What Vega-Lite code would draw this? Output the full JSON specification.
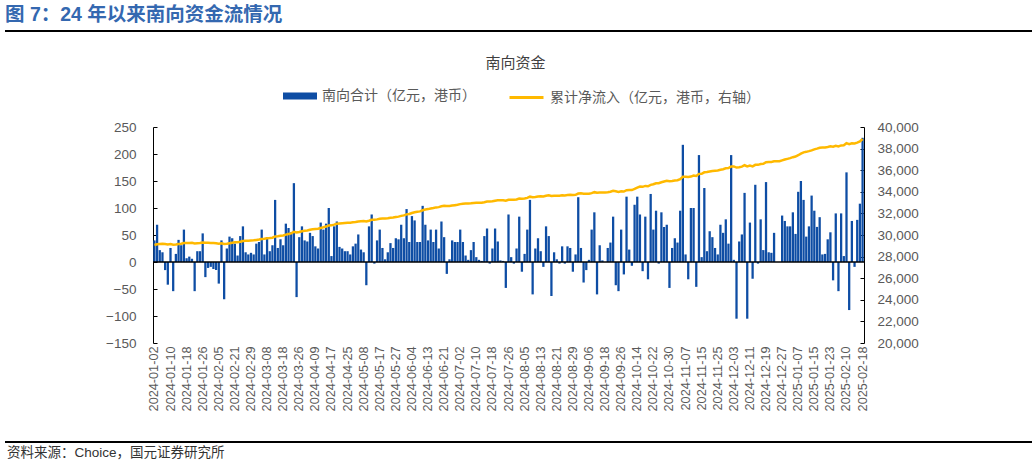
{
"$schema": "https://vega.github.io/schema/vega-lite/v6.json",
"background": "#ffffff",
"padding": {"left": 5, "top": 4, "right": 0, "bottom": 3},
"spacing": 24,
"config": {"view": {"stroke": null}, "axis": {"labelOverlap": false}},
"datasets": {"flows": [
{"d":"2024-01-02","v":40,"c":29080},{"d":"2024-01-03","v":69,"c":29149},{"d":"2024-01-04","v":22,"c":29171},{"d":"2024-01-05","v":18,"c":29189},{"d":"2024-01-08","v":-15,"c":29174},{"d":"2024-01-09","v":-42,"c":29132},{"d":"2024-01-10","v":26,"c":29158},{"d":"2024-01-11","v":-54,"c":29104},{"d":"2024-01-12","v":15,"c":29119},{"d":"2024-01-15","v":41,"c":29160},
{"d":"2024-01-16","v":31,"c":29191},{"d":"2024-01-17","v":60,"c":29251},{"d":"2024-01-18","v":7,"c":29258},{"d":"2024-01-19","v":10,"c":29268},{"d":"2024-01-22","v":6,"c":29274},{"d":"2024-01-23","v":-54,"c":29220},{"d":"2024-01-24","v":20,"c":29240},{"d":"2024-01-25","v":20,"c":29260},{"d":"2024-01-26","v":53,"c":29313},{"d":"2024-01-29","v":-28,"c":29285},
{"d":"2024-01-30","v":-11,"c":29274},{"d":"2024-01-31","v":-9,"c":29265},{"d":"2024-02-01","v":-13,"c":29252},{"d":"2024-02-02","v":-15,"c":29237},{"d":"2024-02-05","v":-40,"c":29197},{"d":"2024-02-06","v":40,"c":29237},{"d":"2024-02-07","v":-69,"c":29168},{"d":"2024-02-08","v":25,"c":29193},{"d":"2024-02-19","v":47,"c":29240},{"d":"2024-02-20","v":44,"c":29284},
{"d":"2024-02-21","v":34,"c":29318},{"d":"2024-02-22","v":12,"c":29330},{"d":"2024-02-23","v":48,"c":29378},{"d":"2024-02-26","v":66,"c":29444},{"d":"2024-02-27","v":18,"c":29462},{"d":"2024-02-28","v":14,"c":29476},{"d":"2024-02-29","v":17,"c":29493},{"d":"2024-03-01","v":14,"c":29507},{"d":"2024-03-04","v":34,"c":29541},{"d":"2024-03-05","v":37,"c":29578},
{"d":"2024-03-06","v":60,"c":29638},{"d":"2024-03-07","v":14,"c":29652},{"d":"2024-03-08","v":46,"c":29698},{"d":"2024-03-11","v":20,"c":29718},{"d":"2024-03-12","v":31,"c":29749},{"d":"2024-03-13","v":115,"c":29864},{"d":"2024-03-14","v":26,"c":29890},{"d":"2024-03-15","v":42,"c":29932},{"d":"2024-03-18","v":31,"c":29963},{"d":"2024-03-19","v":71,"c":30034},
{"d":"2024-03-20","v":63,"c":30097},{"d":"2024-03-21","v":55,"c":30152},{"d":"2024-03-22","v":146,"c":30298},{"d":"2024-03-25","v":-65,"c":30233},{"d":"2024-03-26","v":46,"c":30279},{"d":"2024-03-27","v":66,"c":30345},{"d":"2024-03-28","v":40,"c":30385},{"d":"2024-04-02","v":38,"c":30423},{"d":"2024-04-03","v":54,"c":30477},{"d":"2024-04-08","v":48,"c":30525},
{"d":"2024-04-09","v":29,"c":30554},{"d":"2024-04-10","v":25,"c":30579},{"d":"2024-04-11","v":73,"c":30652},{"d":"2024-04-12","v":60,"c":30712},{"d":"2024-04-15","v":71,"c":30783},{"d":"2024-04-16","v":100,"c":30883},{"d":"2024-04-17","v":11,"c":30894},{"d":"2024-04-18","v":66,"c":30960},{"d":"2024-04-19","v":75,"c":31035},{"d":"2024-04-22","v":28,"c":31063},
{"d":"2024-04-23","v":25,"c":31088},{"d":"2024-04-24","v":20,"c":31108},{"d":"2024-04-25","v":20,"c":31128},{"d":"2024-04-26","v":14,"c":31142},{"d":"2024-04-29","v":29,"c":31171},{"d":"2024-04-30","v":34,"c":31205},{"d":"2024-05-06","v":51,"c":31256},{"d":"2024-05-07","v":23,"c":31279},{"d":"2024-05-08","v":18,"c":31297},{"d":"2024-05-09","v":-43,"c":31254},
{"d":"2024-05-10","v":66,"c":31320},{"d":"2024-05-13","v":88,"c":31408},{"d":"2024-05-14","v":-3,"c":31405},{"d":"2024-05-16","v":40,"c":31445},{"d":"2024-05-17","v":60,"c":31505},{"d":"2024-05-20","v":26,"c":31531},{"d":"2024-05-21","v":5,"c":31536},{"d":"2024-05-22","v":18,"c":31554},{"d":"2024-05-23","v":35,"c":31589},{"d":"2024-05-24","v":26,"c":31615},
{"d":"2024-05-27","v":44,"c":31659},{"d":"2024-05-28","v":42,"c":31701},{"d":"2024-05-29","v":69,"c":31770},{"d":"2024-05-30","v":44,"c":31814},{"d":"2024-05-31","v":98,"c":31912},{"d":"2024-06-03","v":37,"c":31949},{"d":"2024-06-04","v":85,"c":32034},{"d":"2024-06-05","v":77,"c":32111},{"d":"2024-06-06","v":37,"c":32148},{"d":"2024-06-07","v":37,"c":32185},
{"d":"2024-06-11","v":104,"c":32289},{"d":"2024-06-12","v":69,"c":32358},{"d":"2024-06-13","v":40,"c":32398},{"d":"2024-06-14","v":60,"c":32458},{"d":"2024-06-17","v":37,"c":32495},{"d":"2024-06-18","v":60,"c":32555},{"d":"2024-06-19","v":25,"c":32580},{"d":"2024-06-20","v":75,"c":32655},{"d":"2024-06-21","v":46,"c":32701},{"d":"2024-06-24","v":-22,"c":32679},
{"d":"2024-06-25","v":5,"c":32684},{"d":"2024-06-26","v":40,"c":32724},{"d":"2024-06-27","v":37,"c":32761},{"d":"2024-06-28","v":37,"c":32798},{"d":"2024-07-02","v":60,"c":32858},{"d":"2024-07-03","v":37,"c":32895},{"d":"2024-07-04","v":12,"c":32907},{"d":"2024-07-05","v":4,"c":32911},{"d":"2024-07-08","v":22,"c":32933},{"d":"2024-07-09","v":37,"c":32970},
{"d":"2024-07-10","v":9,"c":32979},{"d":"2024-07-11","v":4,"c":32983},{"d":"2024-07-12","v":2,"c":32985},{"d":"2024-07-15","v":48,"c":33033},{"d":"2024-07-16","v":62,"c":33095},{"d":"2024-07-17","v":-3,"c":33092},{"d":"2024-07-18","v":25,"c":33117},{"d":"2024-07-19","v":62,"c":33179},{"d":"2024-07-22","v":38,"c":33217},{"d":"2024-07-23","v":3,"c":33220},
{"d":"2024-07-24","v":2,"c":33222},{"d":"2024-07-25","v":-48,"c":33174},{"d":"2024-07-26","v":88,"c":33262},{"d":"2024-07-29","v":9,"c":33271},{"d":"2024-07-30","v":-3,"c":33268},{"d":"2024-07-31","v":25,"c":33293},{"d":"2024-08-01","v":84,"c":33377},{"d":"2024-08-02","v":-18,"c":33359},{"d":"2024-08-05","v":15,"c":33374},{"d":"2024-08-06","v":60,"c":33434},
{"d":"2024-08-07","v":115,"c":33549},{"d":"2024-08-08","v":-60,"c":33489},{"d":"2024-08-09","v":25,"c":33514},{"d":"2024-08-12","v":44,"c":33558},{"d":"2024-08-13","v":20,"c":33578},{"d":"2024-08-14","v":-9,"c":33569},{"d":"2024-08-15","v":66,"c":33635},{"d":"2024-08-16","v":48,"c":33683},{"d":"2024-08-19","v":-63,"c":33620},{"d":"2024-08-20","v":18,"c":33638},
{"d":"2024-08-21","v":5,"c":33643},{"d":"2024-08-22","v":-3,"c":33640},{"d":"2024-08-23","v":29,"c":33669},{"d":"2024-08-26","v":-3,"c":33666},{"d":"2024-08-27","v":29,"c":33695},{"d":"2024-08-28","v":26,"c":33721},{"d":"2024-08-29","v":-18,"c":33703},{"d":"2024-08-30","v":14,"c":33717},{"d":"2024-09-02","v":120,"c":33837},{"d":"2024-09-03","v":26,"c":33863},
{"d":"2024-09-04","v":-38,"c":33825},{"d":"2024-09-05","v":-15,"c":33810},{"d":"2024-09-06","v":4,"c":33814},{"d":"2024-09-09","v":60,"c":33874},{"d":"2024-09-10","v":92,"c":33966},{"d":"2024-09-11","v":-60,"c":33906},{"d":"2024-09-12","v":31,"c":33937},{"d":"2024-09-13","v":3,"c":33940},{"d":"2024-09-18","v":0,"c":33940},{"d":"2024-09-19","v":26,"c":33966},
{"d":"2024-09-20","v":36,"c":34002},{"d":"2024-09-23","v":84,"c":34086},{"d":"2024-09-24","v":-43,"c":34043},{"d":"2024-09-25","v":-54,"c":33989},{"d":"2024-09-26","v":60,"c":34049},{"d":"2024-09-27","v":-23,"c":34026},{"d":"2024-09-30","v":121,"c":34147},{"d":"2024-10-08","v":23,"c":34170},{"d":"2024-10-09","v":-7,"c":34163},{"d":"2024-10-10","v":106,"c":34269},
{"d":"2024-10-14","v":121,"c":34390},{"d":"2024-10-15","v":88,"c":34478},{"d":"2024-10-16","v":-17,"c":34461},{"d":"2024-10-17","v":84,"c":34545},{"d":"2024-10-18","v":-32,"c":34513},{"d":"2024-10-21","v":126,"c":34639},{"d":"2024-10-22","v":60,"c":34699},{"d":"2024-10-23","v":95,"c":34794},{"d":"2024-10-24","v":-3,"c":34791},{"d":"2024-10-25","v":92,"c":34883},
{"d":"2024-10-28","v":65,"c":34948},{"d":"2024-10-29","v":69,"c":35017},{"d":"2024-10-30","v":-48,"c":34969},{"d":"2024-10-31","v":26,"c":34995},{"d":"2024-11-01","v":44,"c":35039},{"d":"2024-11-04","v":36,"c":35075},{"d":"2024-11-05","v":95,"c":35170},{"d":"2024-11-06","v":217,"c":35387},{"d":"2024-11-07","v":14,"c":35401},{"d":"2024-11-08","v":-32,"c":35369},
{"d":"2024-11-11","v":100,"c":35409},{"d":"2024-11-12","v":100,"c":35509},{"d":"2024-11-13","v":-46,"c":35463},{"d":"2024-11-14","v":198,"c":35661},{"d":"2024-11-15","v":9,"c":35670},{"d":"2024-11-18","v":137,"c":35807},{"d":"2024-11-19","v":20,"c":35827},{"d":"2024-11-20","v":57,"c":35884},{"d":"2024-11-21","v":46,"c":35930},{"d":"2024-11-22","v":26,"c":35956},
{"d":"2024-11-25","v":14,"c":35970},{"d":"2024-11-26","v":69,"c":36039},{"d":"2024-11-27","v":54,"c":36093},{"d":"2024-11-28","v":79,"c":36172},{"d":"2024-11-29","v":34,"c":36206},{"d":"2024-12-02","v":198,"c":36344},{"d":"2024-12-03","v":4,"c":36348},{"d":"2024-12-04","v":-105,"c":36243},{"d":"2024-12-05","v":38,"c":36281},{"d":"2024-12-06","v":51,"c":36332},
{"d":"2024-12-09","v":128,"c":36460},{"d":"2024-12-10","v":-105,"c":36355},{"d":"2024-12-11","v":73,"c":36428},{"d":"2024-12-12","v":-31,"c":36357},{"d":"2024-12-13","v":143,"c":36500},{"d":"2024-12-16","v":-3,"c":36497},{"d":"2024-12-17","v":79,"c":36576},{"d":"2024-12-18","v":22,"c":36598},{"d":"2024-12-19","v":148,"c":36746},{"d":"2024-12-20","v":18,"c":36764},
{"d":"2024-12-23","v":17,"c":36770},{"d":"2024-12-24","v":54,"c":36824},{"d":"2024-12-25","v":0,"c":36824},{"d":"2024-12-26","v":0,"c":36824},{"d":"2024-12-27","v":86,"c":36910},{"d":"2024-12-30","v":76,"c":36985},{"d":"2024-12-31","v":66,"c":37048},{"d":"2025-01-02","v":66,"c":37114},{"d":"2025-01-03","v":92,"c":37206},{"d":"2025-01-06","v":52,"c":37260},
{"d":"2025-01-07","v":130,"c":37389},{"d":"2025-01-08","v":150,"c":37539},{"d":"2025-01-09","v":115,"c":37653},{"d":"2025-01-10","v":47,"c":37699},{"d":"2025-01-13","v":66,"c":37765},{"d":"2025-01-14","v":123,"c":37838},{"d":"2025-01-15","v":95,"c":37933},{"d":"2025-01-16","v":65,"c":37996},{"d":"2025-01-17","v":83,"c":38080},{"d":"2025-01-20","v":14,"c":38094},
{"d":"2025-01-21","v":15,"c":38109},{"d":"2025-01-22","v":42,"c":38151},{"d":"2025-01-23","v":55,"c":38206},{"d":"2025-01-24","v":-34,"c":38172},{"d":"2025-01-27","v":90,"c":38262},{"d":"2025-02-05","v":-54,"c":38208},{"d":"2025-02-06","v":90,"c":38298},{"d":"2025-02-07","v":11,"c":38309},{"d":"2025-02-10","v":166,"c":38504},{"d":"2025-02-11","v":-89,"c":38415},
{"d":"2025-02-12","v":76,"c":38490},{"d":"2025-02-13","v":-9,"c":38481},{"d":"2025-02-14","v":78,"c":38558},{"d":"2025-02-17","v":108,"c":38666},{"d":"2025-02-18","v":230,"c":38892}
]},
"vconcat": [
{
"width": 1027, "height": 2,
"title": {"text": "图 7：24 年以来南向资金流情况", "anchor": "start", "font": "Liberation Sans, Noto Sans CJK SC", "fontSize": 19.5, "fontWeight": "bold", "color": "#3468B0", "offset": 5},
"data": {"values": [{}]},
"mark": {"type": "rect", "color": "#000000"},
"encoding": {}
},
{
"hconcat": [
{"width": 148, "height": 290, "data": {"values": [{}]}, "mark": {"type": "rect", "opacity": 0}, "encoding": {}},
{
"width": 711, "height": 216,
"title": {"text": "南向资金", "anchor": "middle", "dx": 7, "offset": 49, "font": "Noto Sans CJK SC", "fontSize": 15, "fontWeight": "normal", "color": "#404040"},
"layer": [
{
"data": {"name": "flows"},
"mark": {"type": "bar"},
"encoding": {
"x": {"field": "d", "type": "ordinal", "scale": {"paddingInner": 0.15, "paddingOuter": 0.1}, "axis": {"values": ["2024-01-02","2024-01-10","2024-01-18","2024-01-26","2024-02-05","2024-02-21","2024-02-29","2024-03-08","2024-03-18","2024-03-26","2024-04-09","2024-04-17","2024-04-25","2024-05-08","2024-05-17","2024-05-27","2024-06-04","2024-06-13","2024-06-21","2024-07-02","2024-07-10","2024-07-18","2024-07-26","2024-08-05","2024-08-13","2024-08-21","2024-08-29","2024-09-06","2024-09-18","2024-09-26","2024-10-14","2024-10-22","2024-10-30","2024-11-07","2024-11-15","2024-11-25","2024-12-03","2024-12-11","2024-12-19","2024-12-27","2025-01-07","2025-01-15","2025-01-23","2025-02-10","2025-02-18"], "labelAngle": -90, "domain": false, "ticks": false, "grid": false, "labelPadding": 3, "labelFont": "Liberation Sans", "labelFontSize": 12.7, "labelColor": "#595959", "labelOverlap": false, "title": null}},
"y": {"field": "v", "type": "quantitative", "scale": {"domain": [-150, 250], "nice": false, "zero": false}, "axis": {"orient": "left", "values": [-150,-100,-50,0,50,100,150,200,250], "title": null, "grid": false, "domainColor": "#000000", "domainWidth": 1, "tickColor": "#000000", "tickSize": -4, "tickWidth": 1, "labelPadding": 21, "labelOverlap": false, "labelFont": "Liberation Sans", "labelFontSize": 13.5, "labelColor": "#595959"}},
"color": {"datum": "南向合计（亿元，港币）", "scale": {"domain": ["南向合计（亿元，港币）"], "range": ["#0E4DA4"]}, "legend": {"orient": "none", "legendX": 278, "legendY": 49, "direction": "horizontal", "title": null, "padding": 0, "labelFont": "Noto Sans CJK SC", "labelFontSize": 14, "labelColor": "#595959", "labelOffset": 5, "labelLimit": 400, "symbolSize": 1156, "symbolType": "M-1,-0.2H1V0.2H-1Z", "symbolStrokeWidth": 0}}
}
},
{
"data": {"values": [{}]},
"mark": {"type": "rule", "color": "#000000", "strokeWidth": 1.5},
"encoding": {"y": {"datum": 0, "scale": {"domain": [-150, 250], "nice": false, "zero": false}, "axis": null}}
},
{
"data": {"name": "flows"},
"mark": {"type": "line", "strokeWidth": 2.5},
"encoding": {
"x": {"field": "d", "type": "ordinal", "scale": {"paddingInner": 0.15, "paddingOuter": 0.1}, "axis": {"values": ["2024-01-02","2024-01-10","2024-01-18","2024-01-26","2024-02-05","2024-02-21","2024-02-29","2024-03-08","2024-03-18","2024-03-26","2024-04-09","2024-04-17","2024-04-25","2024-05-08","2024-05-17","2024-05-27","2024-06-04","2024-06-13","2024-06-21","2024-07-02","2024-07-10","2024-07-18","2024-07-26","2024-08-05","2024-08-13","2024-08-21","2024-08-29","2024-09-06","2024-09-18","2024-09-26","2024-10-14","2024-10-22","2024-10-30","2024-11-07","2024-11-15","2024-11-25","2024-12-03","2024-12-11","2024-12-19","2024-12-27","2025-01-07","2025-01-15","2025-01-23","2025-02-10","2025-02-18"], "labelAngle": -90, "domain": false, "ticks": false, "grid": false, "labelPadding": 3, "labelFont": "Liberation Sans", "labelFontSize": 12.7, "labelColor": "#595959", "labelOverlap": false, "title": null}},
"y": {"field": "c", "type": "quantitative", "scale": {"domain": [20000, 40000], "nice": false, "zero": false}, "axis": {"orient": "right", "values": [20000,22000,24000,26000,28000,30000,32000,34000,36000,38000,40000], "format": ",.0f", "title": null, "grid": false, "domainColor": "#000000", "domainWidth": 1, "tickColor": "#000000", "tickSize": -4, "tickWidth": 1, "labelPadding": 17, "labelOverlap": false, "labelFont": "Liberation Sans", "labelFontSize": 13.5, "labelColor": "#595959"}},
"stroke": {"datum": "累计净流入（亿元，港币，右轴）", "scale": {"domain": ["累计净流入（亿元，港币，右轴）"], "range": ["#FFB900"]}, "legend": {"orient": "none", "legendX": 503, "legendY": 49, "direction": "horizontal", "title": null, "padding": 0, "labelFont": "Noto Sans CJK SC", "labelFontSize": 14, "labelColor": "#595959", "labelOffset": 5, "labelLimit": 400, "symbolSize": 1156, "symbolType": "stroke", "symbolStrokeWidth": 3}}
}
}
],
"resolve": {"scale": {"y": "independent"}, "axis": {"y": "independent"}}
}
],
"spacing": 0,
"bounds": "flush"
},
{
"width": 1027, "height": 2,
"title": {"text": "资料来源：Choice，国元证券研究所", "orient": "bottom", "anchor": "start", "font": "Liberation Sans, Noto Sans CJK SC", "fontSize": 13.5, "fontWeight": "normal", "color": "#333333", "offset": 3, "dx": 2},
"data": {"values": [{}]},
"mark": {"type": "rect", "color": "#000000"},
"encoding": {}
}
]
}
